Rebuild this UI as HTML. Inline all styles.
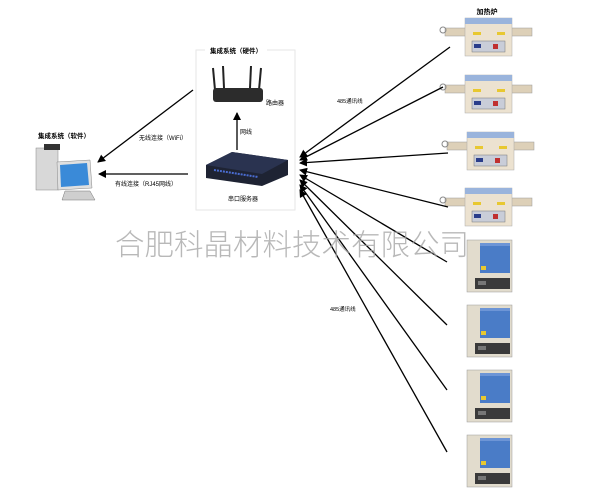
<!DOCTYPE html>
<html><head><meta charset="utf-8"><style>
body{margin:0;background:#fff;}
svg{display:block;font-family:"Liberation Sans","Noto Sans CJK SC",sans-serif;}
</style></head><body>
<svg width="600" height="500" viewBox="0 0 600 500" xmlns="http://www.w3.org/2000/svg">
<defs>
<marker id="a" markerWidth="8" markerHeight="8" refX="7" refY="4" orient="auto" markerUnits="userSpaceOnUse"><path d="M0,0 L8,4 L0,8 z" fill="#000"/></marker>
<g id="tube">
 <rect x="0" y="10" width="22" height="8" fill="#ddd0b8" stroke="#999" stroke-width="0.5"/>
 <rect x="65" y="10" width="22" height="8" fill="#ddd0b8" stroke="#999" stroke-width="0.5"/>
 <circle cx="-2" cy="12" r="3" fill="none" stroke="#888"/>
 <rect x="20" y="0" width="47" height="38" fill="#ece2d0" stroke="#aaa" stroke-width="0.5"/>
 <rect x="20" y="0" width="47" height="6" fill="#9ab4dc"/>
 <rect x="28" y="14" width="8" height="3" fill="#e8c830"/>
 <rect x="52" y="14" width="8" height="3" fill="#e8c830"/>
 <rect x="27" y="23" width="33" height="11" fill="#c9cdd8" stroke="#777" stroke-width="0.5"/>
 <rect x="29" y="26" width="7" height="4" fill="#2a3d8a"/>
 <rect x="48" y="26" width="5" height="5" fill="#c03030"/>
</g>
<g id="box">
 <rect x="0" y="0" width="45" height="52" fill="#e2dccd" stroke="#999" stroke-width="0.5"/>
 <rect x="13" y="3" width="30" height="30" fill="#4a7cc7"/>
 <rect x="13" y="3" width="30" height="3" fill="#6d95d6"/>
 <rect x="14" y="26" width="5" height="4" fill="#e8c830"/>
 <rect x="8" y="38" width="35" height="11" fill="#3a3a3a"/>
 <rect x="11" y="41" width="8" height="4" fill="#777"/>
</g>
</defs>

<text x="487" y="14" font-size="7" text-anchor="middle" font-weight="bold">加热炉</text>
<use href="#tube" x="445" y="18"/>
<use href="#tube" x="445" y="75"/>
<use href="#tube" x="447" y="132"/>
<use href="#tube" x="445" y="188"/>
<use href="#box" x="467" y="240"/>
<use href="#box" x="467" y="305"/>
<use href="#box" x="467" y="370"/>
<use href="#box" x="467" y="435"/>

<rect x="196" y="50" width="99" height="160" fill="none" stroke="#e6e6e6"/>
<rect x="205" y="45" width="62" height="10" fill="#fff"/>
<text x="236" y="53" font-size="6.5" text-anchor="middle" font-weight="bold">集成系统（硬件）</text>
<line x1="213" y1="68" x2="215" y2="90" stroke="#222" stroke-width="2"/>
<line x1="223" y1="66" x2="224" y2="88" stroke="#222" stroke-width="2"/>
<line x1="251" y1="66" x2="250" y2="88" stroke="#222" stroke-width="2"/>
<line x1="261" y1="68" x2="259" y2="90" stroke="#222" stroke-width="2"/>
<rect x="213" y="88" width="50" height="14" rx="3" fill="#2c2c2c"/>
<text x="266" y="105" font-size="6" >路由器</text>
<line x1="237" y1="150" x2="237" y2="113" stroke="#000" stroke-width="1.3" marker-end="url(#a)"/>
<text x="240" y="134" font-size="6">网线</text>
<polygon points="206,165 232,152 288,160 288,175 262,186 206,178" fill="#1e2333"/>
<polygon points="206,165 262,174 288,160 232,152" fill="#2a3350"/>
<line x1="214" y1="170" x2="258" y2="177" stroke="#4a6cd0" stroke-width="2" stroke-dasharray="2 1"/>
<text x="228" y="201" font-size="6">串口服务器</text>

<text x="38" y="138" font-size="6.5" font-weight="bold">集成系统（软件）</text>
<rect x="36" y="148" width="22" height="42" fill="#d8d8d8" stroke="#888" stroke-width="0.5"/>
<rect x="44" y="144" width="16" height="6" fill="#333"/>
<polygon points="57,162 90,160 92,188 58,190" fill="#e0e0e0" stroke="#888" stroke-width="0.5"/>
<polygon points="60,165 87,163 89,185 61,187" fill="#3a8ad8"/>
<polygon points="65,191 90,191 95,200 62,200" fill="#cfcfcf" stroke="#777" stroke-width="0.5"/>

<line x1="193" y1="90" x2="98" y2="162" stroke="#000" stroke-width="1.3" marker-end="url(#a)"/>
<text x="139" y="140" font-size="6">无线连接（WiFi）</text>
<line x1="188" y1="174" x2="99" y2="174" stroke="#000" stroke-width="1.3" marker-end="url(#a)"/>
<text x="115" y="186" font-size="6">有线连接（RJ45网线）</text>

<g stroke="#000" stroke-width="1.3" marker-end="url(#a)">
<line x1="450" y1="47" x2="300" y2="157"/>
<line x1="443" y1="87" x2="300" y2="160"/>
<line x1="448" y1="153" x2="300" y2="163"/>
<line x1="448" y1="207" x2="300" y2="170"/>
<line x1="447" y1="262" x2="300" y2="175"/>
<line x1="447" y1="325" x2="300" y2="180"/>
<line x1="447" y1="390" x2="300" y2="185"/>
<line x1="447" y1="452" x2="300" y2="190"/>
</g>
<text x="337" y="103" font-size="5.5">485通讯线</text>
<text x="330" y="311" font-size="5.5">485通讯线</text>

<text x="292" y="255" font-size="29.5" fill="#a0a0a0" fill-opacity="0.75" text-anchor="middle" font-family="'Noto Sans CJK SC',sans-serif" font-weight="300">合肥科晶材料技术有限公司</text>
</svg>
</body></html>
